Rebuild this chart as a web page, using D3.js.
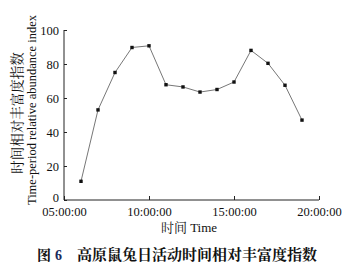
<!DOCTYPE html>
<html><head><meta charset="utf-8">
<script src="https://cdn.jsdelivr.net/npm/d3@7"></script>
<style>
html,body{margin:0;padding:0;background:#fff;}
svg{display:block;}
</style></head>
<body>
<svg id="c" width="350" height="266"></svg>
<script>
const hours = [6,7,8,9,10,11,12,13,14,15,16,17,18,19];
const values = [11,53,75,89.7,90.7,67.8,66.5,63.5,65,69.4,88,80.4,67.5,47];
const xTickHours = [5,10,15,20];
const xTickLabels = ["05:00:00","10:00:00","15:00:00","20:00:00"];
const yTicks = [0,20,40,60,80,100];
const yTitleCn = "时间相对丰富度指数";
const yTitleEn = "Time-period relative abundance index";
const xTitle = "时间 Time";
const captionNum = "图 6";
const captionText = "高原鼠兔日活动时间相对丰富度指数";

const svg = d3.select("#c");
const serif = "'Liberation Serif','Times New Roman',serif";
const cjk = "'Noto Serif CJK SC','Noto Sans CJK SC',serif";
const x = d3.scaleLinear().domain([5,20]).range([64,319]);
const y = d3.scaleLinear().domain([0,100]).range([200,30]);

// axes
const xAxis = d3.axisBottom(x).tickValues(xTickHours).tickSize(-4).tickPadding(7)
  .tickFormat((d,i)=>xTickLabels[i]);
const gx = svg.append("g").attr("transform","translate(0,200)").call(xAxis);
gx.select(".domain").attr("d","M64,0H319").attr("stroke","#222");
gx.selectAll(".tick line").attr("stroke","#222");
gx.selectAll(".tick text").attr("font-family",serif).attr("font-size",12.5).attr("fill","#111");

const yAxis = d3.axisLeft(y).tickValues(yTicks).tickSize(-3).tickPadding(5);
const gy = svg.append("g").attr("transform","translate(64,0)").call(yAxis);
gy.select(".domain").attr("d","M0,30V200").attr("stroke","#222");
gy.selectAll(".tick line").attr("stroke","#222");
gy.selectAll(".tick text").attr("font-family",serif).attr("font-size",12.5).attr("fill","#111")
  .attr("dy",d=>d===0?"0.1em":"0.32em");

// line
const line = d3.line().x((d,i)=>x(hours[i])).y(d=>y(d));
svg.append("path").datum(values).attr("d",line)
  .attr("fill","none").attr("stroke","#777").attr("stroke-width",1);
svg.selectAll("rect.pt").data(values).enter().append("rect").attr("class","pt")
  .attr("x",(d,i)=>x(hours[i])-1.7).attr("y",d=>y(d)-1.7)
  .attr("width",3.4).attr("height",3.4).attr("fill","#111");

// y titles
svg.append("text").attr("transform","translate(22,113) rotate(-90)")
  .attr("text-anchor","middle").attr("font-family",cjk).attr("font-size",13.5)
  .attr("fill","#111").text(yTitleCn);
svg.append("text").attr("transform","translate(36,110) rotate(-90)")
  .attr("text-anchor","middle").attr("font-family",serif).attr("font-size",12.5)
  .attr("fill","#111").text(yTitleEn);

// x title
svg.append("text").attr("x",189).attr("y",232).attr("text-anchor","middle")
  .attr("font-size",13).attr("fill","#111")
  .call(t=>{
    t.append("tspan").attr("font-family",cjk).text(xTitle.split(" ")[0]);
    t.append("tspan").attr("font-family",serif).text(" "+xTitle.split(" ")[1]);
  });

// caption
svg.append("text").attr("x",37).attr("y",260).attr("font-family",cjk)
  .attr("font-size",14).attr("font-weight","bold").attr("fill","#111")
  .text(captionNum.split(" ")[0]);
svg.append("text").attr("x",55).attr("y",260).attr("font-family",serif)
  .attr("font-size",14).attr("font-weight","bold").attr("fill","#1a2a5a")
  .text(captionNum.split(" ")[1]);
svg.append("text").attr("x",77).attr("y",260).attr("font-family",cjk)
  .attr("font-size",15).attr("font-weight","bold").attr("fill","#111")
  .text(captionText);
</script>
</body></html>
